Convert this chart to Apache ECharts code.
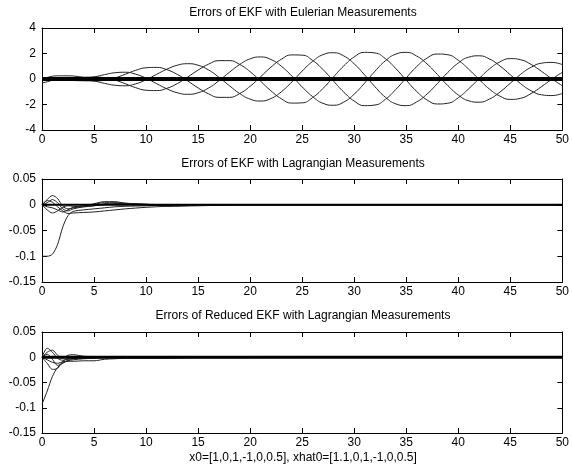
<!DOCTYPE html>
<html>
<head>
<meta charset="utf-8">
<script src="https://cdn.jsdelivr.net/npm/echarts@6/dist/echarts.min.js"></script>
<style>
  html, body { margin: 0; padding: 0; background: #fff; }
  #chart { width: 572px; height: 468px; }
</style>
</head>
<body>
<div id="chart"></div>
<script>
// time steps of the top panel
var tFull = [0,1,2,3,4,5,6,7,8,9,10,11,12,13,14,15,16,17,18,19,20,21,22,23,24,25,
             26,27,28,29,30,31,32,33,34,35,36,37,38,39,40,41,42,43,44,45,46,47,48,49,50];

// Eulerian measurements: the four oscillating errors
var eulerA = [0.02,0.06,0.09,0.12,0.14,0.15,0.10,-0.08,-0.37,-0.68,-0.88,-0.91,-0.73,-0.36,0.15,0.70,1.16,1.44,1.44,1.14,
              0.57,-0.17,-0.93,-1.55,-1.89,-1.87,-1.46,-0.74,0.15,1.03,1.73,2.09,2.04,1.59,0.82,-0.09,-0.97,-1.64,-1.96,-1.90,
              -1.47,-0.77,0.03,0.79,1.34,1.60,1.51,1.14,0.60,0.01,-0.53];
var eulerB = [-0.02,-0.06,-0.09,-0.12,-0.14,-0.15,-0.10,0.08,0.37,0.68,0.88,0.91,0.73,0.36,-0.15,-0.70,-1.16,-1.44,-1.44,-1.14,
              -0.57,0.17,0.93,1.55,1.89,1.87,1.46,0.74,-0.15,-1.03,-1.73,-2.09,-2.04,-1.59,-0.82,0.09,0.97,1.64,1.96,1.90,
              1.47,0.77,-0.03,-0.79,-1.34,-1.60,-1.51,-1.14,-0.60,-0.01,0.53];
var eulerC = [-0.10,-0.08,-0.05,-0.01,0.06,0.16,0.34,0.49,0.53,0.38,0.06,-0.36,-0.77,-1.08,-1.20,-1.08,-0.71,-0.14,0.52,1.14,
              1.58,1.73,1.53,1.00,0.24,-0.62,-1.38,-1.91,-2.06,-1.81,-1.19,-0.32,0.61,1.43,1.95,2.09,1.80,1.18,0.35,-0.52,
              -1.25,-1.71,-1.82,-1.57,-1.03,-0.33,0.37,0.92,1.24,1.30,1.13];
var eulerD = [0.10,0.08,0.05,0.01,-0.06,-0.16,-0.34,-0.49,-0.53,-0.38,-0.06,0.36,0.77,1.08,1.20,1.08,0.71,0.14,-0.52,-1.14,
              -1.58,-1.73,-1.53,-1.00,-0.24,0.62,1.38,1.91,2.06,1.81,1.19,0.32,-0.61,-1.43,-1.95,-2.09,-1.80,-1.18,-0.35,0.52,
              1.25,1.71,1.82,1.57,1.03,0.33,-0.37,-0.92,-1.24,-1.30,-1.13];
// small early wiggles of the top panel
var tEarly = [0,0.5,1,1.5,2,3,4,5];
var early1 = [-0.30,-0.22,-0.10,-0.02,0,0,0,0];
var early2 = [0,0.12,0.22,0.25,0.25,0.24,0.12,0];
// states that stay at zero
var tZero = [0,50];
var zeroErr = [0,0];

// time steps of the two Lagrangian panels
var tTrans = [0,0.5,1,1.5,2,2.5,3,4,5,6,7,8,10,12,15,20,30,40,50];

// EKF with Lagrangian measurements
var lag1 = [-0.100,-0.100,-0.096,-0.077,-0.043,-0.021,-0.013,-0.010,-0.008,-0.006,-0.004,-0.003,-0.002,-0.001,0,0,0,0,0];
var lag2 = [0,0.010,0.018,0.012,-0.003,-0.008,-0.006,-0.003,0.002,0.006,0.006,0.003,0,-0.001,0,0,0,0,0];
var lag3 = [0,-0.010,-0.016,-0.012,-0.005,-0.002,-0.003,-0.004,-0.002,0.002,0.004,0.003,0.001,0,0,0,0,0,0];
var lag4 = [0,0.008,0.005,-0.004,-0.012,-0.017,-0.016,-0.015,-0.014,-0.012,-0.010,-0.008,-0.005,-0.003,-0.001,0,0,0,0];
var lag5 = [0,0.004,0.010,0.004,-0.008,-0.012,-0.008,-0.004,-0.002,0,0.002,0.001,0,0,0,0,0,0,0];
var lag6 = [0,-0.004,-0.006,-0.010,-0.014,-0.010,-0.005,-0.002,0.001,0.004,0.003,0.002,0.001,-0.003,-0.002,0,0,0,0];

// Reduced EKF with Lagrangian measurements
var red1 = [-0.093,-0.067,-0.038,-0.020,-0.011,-0.007,-0.005,-0.003,-0.002,-0.001,-0.001,0,0,0,0,0,0,0,0];
var red2 = [0,0.018,0.010,-0.002,-0.006,-0.004,-0.002,-0.001,0,0,0,0,0,0,0,0,0,0,0];
var red3 = [0,-0.012,-0.024,-0.022,-0.008,-0.002,0,0.001,0,0,0,0,0,0,0,0,0,0,0];
var red4 = [0,0.010,0.014,0.004,-0.002,0.004,0.005,0.002,0.001,0,0,0,0,0,0,0,0,0,0];
var red5 = [0,-0.005,-0.010,-0.012,-0.009,-0.008,-0.008,-0.007,-0.007,-0.004,-0.003,-0.002,-0.002,-0.002,-0.001,-0.001,0,0,0];
var red6 = [0,0.006,-0.004,-0.016,-0.012,-0.006,-0.003,-0.001,0,0,0,0,0,0,0,0,0,0,0];

var xTicks = { min: 0, max: 50, interval: 5 };
var yTop = { min: -4, max: 4, interval: 2 };
var ySmall = { min: -0.15, max: 0.05, interval: 0.05 };

var font = 'Liberation Sans';
var chart = echarts.init(document.getElementById('chart'));

function pairs(ts, vs) {
    return ts.map(function (t, i) { return [t, vs[i]]; });
}

function xAxes(grid) {
    var base = {
        type: 'value', gridIndex: grid, min: xTicks.min, max: xTicks.max, interval: xTicks.interval,
        axisLine: { show: true, onZero: false, lineStyle: { color: '#000', width: 1 } },
        axisTick: { show: true, inside: true, length: 5, lineStyle: { color: '#000' } },
        splitLine: { show: false }
    };
    return [
        Object.assign({}, base, { position: 'bottom',
            axisLabel: { color: '#000', fontSize: 12, fontFamily: font, margin: 4 } }),
        Object.assign({}, base, { position: 'top', axisLabel: { show: false } })
    ];
}

function yAxes(grid, r) {
    var base = {
        type: 'value', gridIndex: grid, min: r.min, max: r.max, interval: r.interval,
        axisLine: { show: true, onZero: false, lineStyle: { color: '#000', width: 1 } },
        axisTick: { show: true, inside: true, length: 5, lineStyle: { color: '#000' } },
        splitLine: { show: false }
    };
    return [
        Object.assign({}, base, { position: 'left',
            axisLabel: { color: '#000', fontSize: 12, fontFamily: font, margin: 6 } }),
        Object.assign({}, base, { position: 'right', axisLabel: { show: false } })
    ];
}

function line(axis, ts, vs, opts) {
    opts = opts || {};
    return {
        type: 'line', xAxisIndex: axis, yAxisIndex: axis,
        data: pairs(ts, vs), showSymbol: false, symbol: 'none',
        smooth: opts.smooth === undefined ? 0.3 : opts.smooth,
        lineStyle: { color: opts.color || '#222', width: opts.width || 1 },
        z: opts.z || 2, silent: true
    };
}

var titleStyle = { fontSize: 12, fontWeight: 'normal', fontFamily: font, color: '#000' };

chart.setOption({
    animation: false,
    title: [
        { text: 'Errors of EKF with Eulerian Measurements', left: 303, top: 7, textAlign: 'center', padding: 0, textStyle: titleStyle },
        { text: 'Errors of EKF with Lagrangian Measurements', left: 303, top: 158, textAlign: 'center', padding: 0, textStyle: titleStyle },
        { text: 'Errors of Reduced EKF with Lagrangian Measurements', left: 303, top: 310, textAlign: 'center', padding: 0, textStyle: titleStyle },
        { text: 'x0=[1,0,1,-1,0,0.5], xhat0=[1.1,0,1,-1,0,0.5]', left: 303, top: 452, textAlign: 'center', padding: 0, textStyle: titleStyle }
    ],
    grid: [
        { left: 42, right: 8, top: 28, height: 102 },
        { left: 42, right: 8, top: 179, height: 103 },
        { left: 42, right: 8, top: 332, height: 101 }
    ],
    xAxis: xAxes(0).concat(xAxes(1), xAxes(2)),
    yAxis: yAxes(0, yTop).concat(yAxes(1, ySmall), yAxes(2, ySmall)),
    series: [
        // top panel (axis index 0)
        line(0, tFull, eulerA, { smooth: 0.5 }),
        line(0, tFull, eulerB, { smooth: 0.5 }),
        line(0, tFull, eulerC, { smooth: 0.5 }),
        line(0, tFull, eulerD, { smooth: 0.5 }),
        line(0, tEarly, early1),
        line(0, tEarly, early2),
        line(0, tZero, zeroErr, { width: 4, color: '#000', z: 3, smooth: false }),
        // middle panel (axis index 2)
        line(2, tTrans, lag1),
        line(2, tTrans, lag2),
        line(2, tTrans, lag3),
        line(2, tTrans, lag4),
        line(2, tTrans, lag5),
        line(2, tTrans, lag6),
        line(2, tZero, zeroErr, { width: 2, color: '#000', z: 3, smooth: false }),
        // bottom panel (axis index 4)
        line(4, tTrans, red1),
        line(4, tTrans, red2),
        line(4, tTrans, red3),
        line(4, tTrans, red4),
        line(4, tTrans, red5),
        line(4, tTrans, red6),
        line(4, tZero, zeroErr, { width: 3, color: '#000', z: 3, smooth: false })
    ]
});
</script>
</body>
</html>
